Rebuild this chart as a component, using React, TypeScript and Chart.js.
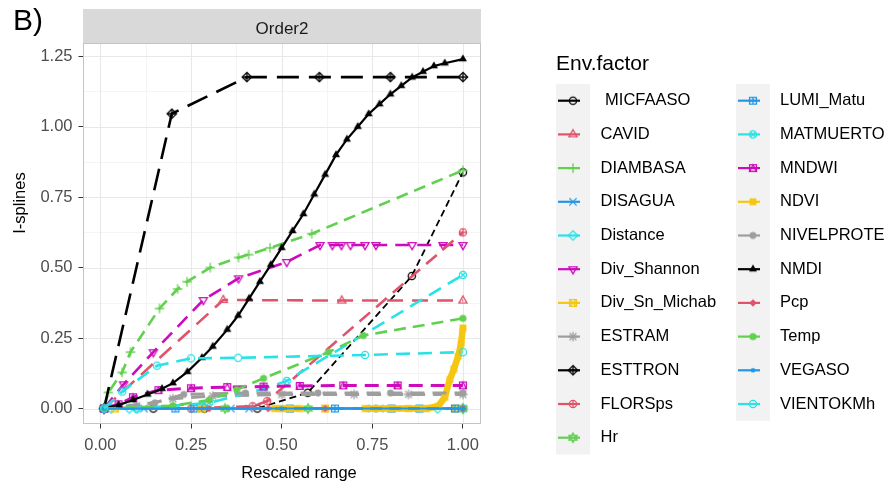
import React, { useEffect, useRef } from "react";
import { Chart, registerables } from "chart.js";

Chart.register(...registerables);

const FONT = "'Liberation Sans', Arial, Helvetica, sans-serif";

// ---------------- categories / labels ----------------
const factors = [
  "MICFAASO", "CAVID", "DIAMBASA", "DISAGUA", "Distance", "Div_Shannon", "Div_Sn_Michab",
  "ESTRAM", "ESTTRON", "FLORSps", "Hr", "LUMI_Matu", "MATMUERTO", "MNDWI", "NDVI",
  "NIVELPROTE", "NMDI", "Pcp", "Temp", "VEGASO", "VIENTOKMh",
];
const legendLabels = [
  " MICFAASO", "CAVID", "DIAMBASA", "DISAGUA", "Distance", "Div_Shannon", "Div_Sn_Michab",
  "ESTRAM", "ESTTRON", "FLORSps", "Hr", "LUMI_Matu", "MATMUERTO", "MNDWI", "NDVI",
  "NIVELPROTE", "NMDI", "Pcp", "Temp", "VEGASO", "VIENTOKMh",
];
const shapeCodes = [1, 2, 3, 4, 5, 6, 7, 8, 9, 10, 11, 12, 13, 14, 15, 16, 17, 18, 19, 20, 21];
const panelTitle = "Order2";
const figureTag = "B)";
const legendTitle = "Env.factor";
const xAxisTitle = "Rescaled range";
const yAxisTitle = "I-splines";
const xTickValues = [0, 0.25, 0.5, 0.75, 1];
const yTickValues = [0, 0.25, 0.5, 0.75, 1, 1.25];

// ---------------- series values ----------------
const MICFAASO_x = [0.01, 0.146, 0.287, 0.433, 0.572, 0.859, 1.0];
const MICFAASO_y = [0, 0, 0, 0, 0.056, 0.47, 0.838];

const CAVID_x = [0.01, 0.339, 0.666, 1.0];
const CAVID_y = [0, 0.385, 0.383, 0.383];

const DIAMBASA_x = [0.01, 0.022, 0.06, 0.083, 0.163, 0.213, 0.239, 0.303, 0.381, 0.409, 0.468, 0.583, 1.0];
const DIAMBASA_y = [0, 0.057, 0.128, 0.2, 0.355, 0.424, 0.45, 0.5, 0.536, 0.546, 0.57, 0.62, 0.845];

const DISAGUA_x = [0.01, 0.12, 0.28, 0.36, 0.41, 0.75, 0.77, 1.0];
const DISAGUA_y = [0, 0, 0, 0, 0, 0, 0, 0];

const Distance_x = [0.01, 0.03, 0.08, 0.1, 0.93, 1.0];
const Distance_y = [0, 0, 0, 0, 0, 0];

const Div_Shannon_x = [0.01, 0.064, 0.146, 0.284, 0.381, 0.514, 0.606, 0.64, 0.665, 0.69, 0.73, 0.76, 0.86, 0.945, 1.0];
const Div_Shannon_y = [0, 0.086, 0.2, 0.385, 0.462, 0.52, 0.58, 0.58, 0.58, 0.58, 0.58, 0.58, 0.58, 0.58, 0.58];

const Div_Sn_Michab_x = [0.01, 0.04, 0.28, 0.62, 0.98];
const Div_Sn_Michab_y = [0, 0, 0, 0, 0];

const ESTRAM_x = [0.01, 0.1, 0.2, 0.31, 0.5, 0.7, 0.85, 1.0];
const ESTRAM_y = [0, 0.01, 0.035, 0.044, 0.05, 0.05, 0.05, 0.05];

const ESTTRON_x = [0.01, 0.197, 0.404, 0.604, 0.8, 1.0];
const ESTTRON_y = [0, 1.046, 1.176, 1.176, 1.176, 1.176];

const FLORSps_x = [0.01, 0.25, 0.42, 0.46, 1.0];
const FLORSps_y = [0, 0, 0.008, 0.026, 0.625];

const Hr_x = [0.01, 0.344, 0.573, 1.0];
const Hr_y = [0, 0, 0, 0];

const LUMI_Matu_x = [0.01, 0.207, 0.257, 0.523, 0.647, 0.803, 0.88, 0.978];
const LUMI_Matu_y = [0, 0, 0, 0, 0, 0, 0, 0];

const MATMUERTO_x = [0.01, 0.1, 0.3, 0.45, 0.514, 1.0];
const MATMUERTO_y = [0, 0, 0.02, 0.07, 0.098, 0.474];

const MNDWI_x = [0.01, 0.05, 0.09, 0.16, 0.25, 0.35, 0.45, 0.55, 0.67, 0.82, 1.0];
const MNDWI_y = [0, 0.015, 0.04, 0.065, 0.072, 0.076, 0.078, 0.08, 0.082, 0.082, 0.082];

const NDVI_x = [0.48, 0.5, 0.52, 0.55, 0.64, 0.73, 0.76, 0.8, 0.85, 0.9, 0.932, 0.95, 0.964, 0.975, 0.987, 0.995, 1.0];
const NDVI_y = [0, 0, 0, 0, null, 0, 0, 0, 0, 0, 0.008, 0.04, 0.103, 0.14, 0.185, 0.23, 0.286];

const NIVELPROTE_x = [0.01, 0.15, 0.23, 0.4, 0.6, 0.8, 1.0];
const NIVELPROTE_y = [0, 0.02, 0.05, 0.055, 0.055, 0.055, 0.055];

const NMDI_x = [0.01, 0.05, 0.09, 0.13, 0.17, 0.2, 0.24, 0.28, 0.31, 0.35, 0.38, 0.41, 0.44, 0.47, 0.5, 0.53, 0.56, 0.59, 0.62, 0.65, 0.68, 0.71, 0.74, 0.77, 0.8, 0.83, 0.86, 0.89, 0.92, 0.95, 1.0];
const NMDI_y = [0, 0.012, 0.03, 0.05, 0.07, 0.09, 0.13, 0.18, 0.22, 0.28, 0.33, 0.39, 0.45, 0.51, 0.57, 0.63, 0.69, 0.76, 0.83, 0.9, 0.955, 1.0, 1.045, 1.08, 1.115, 1.145, 1.175, 1.195, 1.215, 1.225, 1.24];

const Pcp_x = [0.01, 0.3, 0.463, 0.62, 1.0];
const Pcp_y = [0, 0, 0, 0, 0];

const Temp_x = [0.01, 0.2, 0.3, 0.376, 0.45, 0.629, 0.725, 1.0];
const Temp_y = [0, 0.01, 0.03, 0.067, 0.107, 0.2, 0.259, 0.32];

const VEGASO_x = [0.01, 0.5, 1.0];
const VEGASO_y = [0, 0, 0];

const VIENTOKMh_x = [0.01, 0.06, 0.156, 0.25, 0.38, 0.73, 1.0];
const VIENTOKMh_y = [0, 0.06, 0.152, 0.178, 0.18, 0.19, 0.2];

const seriesX = [
  MICFAASO_x, CAVID_x, DIAMBASA_x, DISAGUA_x, Distance_x, Div_Shannon_x, Div_Sn_Michab_x,
  ESTRAM_x, ESTTRON_x, FLORSps_x, Hr_x, LUMI_Matu_x, MATMUERTO_x, MNDWI_x, NDVI_x,
  NIVELPROTE_x, NMDI_x, Pcp_x, Temp_x, VEGASO_x, VIENTOKMh_x,
];
const seriesY = [
  MICFAASO_y, CAVID_y, DIAMBASA_y, DISAGUA_y, Distance_y, Div_Shannon_y, Div_Sn_Michab_y,
  ESTRAM_y, ESTTRON_y, FLORSps_y, Hr_y, LUMI_Matu_y, MATMUERTO_y, MNDWI_y, NDVI_y,
  NIVELPROTE_y, NMDI_y, Pcp_y, Temp_y, VEGASO_y, VIENTOKMh_y,
];

// ---------------- styles ----------------
const palette = ["#000000", "#DF536B", "#61D04F", "#2297E6", "#28E2E5", "#CD0BBC", "#F5C710", "#9E9E9E"];
const lineDashes: number[][] = [
  [7, 4], [16, 9], [12, 7], [], [12, 7], [14, 8], [],
  [14, 8], [22, 10], [14, 8], [], [], [14, 8], [14, 8], [],
  [14, 8], [], [12, 7], [12, 7], [], [14, 8],
];
const lineWidths = [
  1.8, 2.6, 2.6, 2, 2.6, 2.6, 2.6,
  3, 2.6, 2.6, 2, 2, 2.6, 3, 6.5,
  3, 2.2, 2.6, 2.6, 2, 2.6,
];

function makePch(code: number, color: string): HTMLCanvasElement {
  const S = 14;
  const c = document.createElement("canvas");
  c.width = S;
  c.height = S;
  const g = c.getContext("2d")!;
  const m = S / 2;
  const r = 3.6;
  g.strokeStyle = color;
  g.fillStyle = color;
  g.lineWidth = 1.3;
  const path = (pts: number[][]) => {
    g.beginPath();
    pts.forEach(([x, y], i) => (i ? g.lineTo(m + x, m + y) : g.moveTo(m + x, m + y)));
    g.closePath();
  };
  const circ = (rr: number) => {
    g.beginPath();
    g.arc(m, m, rr, 0, Math.PI * 2);
  };
  const plus = (rr: number) => {
    g.beginPath();
    g.moveTo(m - rr, m); g.lineTo(m + rr, m);
    g.moveTo(m, m - rr); g.lineTo(m, m + rr);
    g.stroke();
  };
  const cross = (rr: number) => {
    g.beginPath();
    g.moveTo(m - rr, m - rr); g.lineTo(m + rr, m + rr);
    g.moveTo(m - rr, m + rr); g.lineTo(m + rr, m - rr);
    g.stroke();
  };
  const T = r * 1.3;
  const triUp = [[0, -T], [T * 0.866, T * 0.5], [-T * 0.866, T * 0.5]];
  const triDn = [[0, T], [T * 0.866, -T * 0.5], [-T * 0.866, -T * 0.5]];
  const D = r * 1.3;
  const dia = [[0, -D], [D, 0], [0, D], [-D, 0]];
  const q = r * 0.95;
  const sq = [[-q, -q], [q, -q], [q, q], [-q, q]];
  switch (code) {
    case 1: circ(r); g.stroke(); break;
    case 2: path(triUp); g.stroke(); break;
    case 3: plus(r * 1.3); break;
    case 4: cross(r); break;
    case 5: path(dia); g.stroke(); break;
    case 6: path(triDn); g.stroke(); break;
    case 7: path(sq); g.stroke(); cross(q); break;
    case 8: plus(r * 1.3); cross(r * 0.95); break;
    case 9: path(dia); g.stroke(); plus(D); break;
    case 10: circ(r); g.stroke(); plus(r); break;
    case 11: path(triUp); g.stroke(); path(triDn); g.stroke(); break;
    case 12: path(sq); g.stroke(); plus(q); break;
    case 13: circ(r); g.stroke(); cross(r * 0.707); break;
    case 14: path(sq); g.stroke(); path([[0, -q], [q, q], [-q, q]]); g.stroke(); break;
    case 15: path(sq); g.fill(); break;
    case 16: circ(r * 0.95); g.fill(); break;
    case 17: path(triUp); g.fill(); break;
    case 18: path(dia.map(([x, y]) => [x * 0.8, y * 0.8])); g.fill(); break;
    case 19: circ(r); g.fill(); break;
    case 20: circ(r * 0.65); g.fill(); break;
    default: circ(r); g.stroke(); break;
  }
  return c;
}

export default function App() {
  const ref = useRef<HTMLCanvasElement>(null);

  useEffect(() => {
    const canvas = ref.current!;
    Chart.defaults.font.family = FONT;
    const colors = factors.map((_, i) => palette[i % palette.length]);
    const pchImgs = factors.map((_, i) => makePch(shapeCodes[i], colors[i]));

    const datasets = factors.map((name, i) => ({
      label: name,
      data: seriesX[i].map((x, j) => ({ x, y: seriesY[i][j] })),
      borderColor: colors[i],
      backgroundColor: colors[i],
      borderWidth: lineWidths[i],
      borderDash: lineDashes[i],
      borderCapStyle: "butt" as const,
      pointStyle: pchImgs[i],
      pointRadius: 3,
      pointHoverRadius: 3,
      tension: 0,
      spanGaps: false,
      order: factors.length - i,
    }));

    const decor = {
      id: "decor",
      beforeDraw(chart: any) {
        const { ctx, chartArea: a, scales } = chart;
        const xs = scales.x;
        const ys = scales.y;
        ctx.save();
        ctx.fillStyle = "#ffffff";
        ctx.fillRect(0, 0, chart.width, chart.height);
        // strip
        ctx.fillStyle = "#d9d9d9";
        ctx.fillRect(a.left, 9, a.right - a.left, a.top - 9);
        // minor grid
        ctx.strokeStyle = "#f1f1f1";
        ctx.lineWidth = 0.8;
        for (let k = 0; k < xTickValues.length - 1; k++) {
          const v = (xTickValues[k] + xTickValues[k + 1]) / 2;
          const px = Math.round(xs.getPixelForValue(v)) + 0.5;
          ctx.beginPath(); ctx.moveTo(px, a.top); ctx.lineTo(px, a.bottom); ctx.stroke();
        }
        for (let k = 0; k < yTickValues.length - 1; k++) {
          const v = (yTickValues[k] + yTickValues[k + 1]) / 2;
          const py = Math.round(ys.getPixelForValue(v)) + 0.5;
          ctx.beginPath(); ctx.moveTo(a.left, py); ctx.lineTo(a.right, py); ctx.stroke();
        }
        // major grid
        ctx.strokeStyle = "#e8e8e8";
        ctx.lineWidth = 1.1;
        xTickValues.forEach((v) => {
          const px = Math.round(xs.getPixelForValue(v)) + 0.5;
          ctx.beginPath(); ctx.moveTo(px, a.top); ctx.lineTo(px, a.bottom); ctx.stroke();
        });
        yTickValues.forEach((v) => {
          const py = Math.round(ys.getPixelForValue(v)) + 0.5;
          ctx.beginPath(); ctx.moveTo(a.left, py); ctx.lineTo(a.right, py); ctx.stroke();
        });
        ctx.restore();
      },
      afterDatasetsDraw(chart: any) {
        const { ctx, chartArea: a } = chart;
        ctx.save();
        ctx.strokeStyle = "#c4c4c4";
        ctx.lineWidth = 1;
        ctx.strokeRect(a.left + 0.5, a.top + 0.5, a.right - a.left - 1, a.bottom - a.top - 1);
        ctx.restore();
      },
      afterDraw(chart: any) {
        const { ctx, chartArea: a } = chart;
        ctx.save();
        // figure tag
        ctx.fillStyle = "#000000";
        ctx.font = `30px ${FONT}`;
        ctx.textAlign = "left";
        ctx.textBaseline = "alphabetic";
        ctx.fillText(figureTag, 13, 30);
        // strip title
        ctx.fillStyle = "#1a1a1a";
        ctx.font = `17px ${FONT}`;
        ctx.textAlign = "center";
        ctx.textBaseline = "middle";
        ctx.fillText(panelTitle, (a.left + a.right) / 2, 29);
        // axis titles
        ctx.fillStyle = "#000000";
        ctx.font = `16.5px ${FONT}`;
        ctx.textAlign = "center";
        ctx.textBaseline = "alphabetic";
        ctx.fillText(xAxisTitle, 299, 478);
        ctx.save();
        ctx.translate(25, 203);
        ctx.rotate(-Math.PI / 2);
        ctx.fillText(yAxisTitle, 0, 0);
        ctx.restore();
        // legend
        ctx.textAlign = "left";
        ctx.textBaseline = "middle";
        ctx.font = `21px ${FONT}`;
        ctx.fillText(legendTitle, 556, 64);
        const rowH = 33.7;
        const row0 = 100.7;
        const cols = [
          { keyX: 556, textX: 600.5, start: 0, n: 11 },
          { keyX: 736, textX: 780, start: 11, n: 10 },
        ];
        ctx.font = `16.5px ${FONT}`;
        cols.forEach((col) => {
          ctx.fillStyle = "#f2f2f2";
          ctx.fillRect(col.keyX, row0 - rowH / 2, 34, col.n * rowH);
          for (let k = 0; k < col.n; k++) {
            const i = col.start + k;
            const y = row0 + k * rowH;
            ctx.strokeStyle = colors[i];
            ctx.lineWidth = 2.2;
            ctx.setLineDash([]);
            ctx.beginPath();
            ctx.moveTo(col.keyX + 2, y);
            ctx.lineTo(col.keyX + 24, y);
            ctx.stroke();
            const img = pchImgs[i];
            ctx.drawImage(img, col.keyX + 17 - img.width / 2, y - img.height / 2);
            ctx.fillStyle = "#000000";
            ctx.fillText(legendLabels[i], col.textX, y);
          }
        });
        ctx.restore();
      },
    };

    const tickFont = { family: FONT, size: 16.5 };
    const chart = new Chart(canvas, {
      type: "line",
      data: { datasets: datasets as any },
      options: {
        animation: false,
        responsive: false,
        devicePixelRatio: 1,
        events: [],
        layout: { padding: { left: 0, top: 43, right: 411, bottom: 0 } },
        plugins: { legend: { display: false }, tooltip: { enabled: false }, title: { display: false } },
        scales: {
          x: {
            type: "linear",
            min: -0.048,
            max: 1.05,
            afterFit: (s: any) => { s.height = 58; },
            afterBuildTicks: (s: any) => { s.ticks = xTickValues.map((v) => ({ value: v })); },
            ticks: {
              callback: (v: any) => Number(v).toFixed(2),
              font: tickFont,
              color: "#4d4d4d",
              padding: 7,
              autoSkip: false,
              maxRotation: 0,
              minRotation: 0,
            },
            grid: { display: true, drawOnChartArea: false, drawTicks: true, tickLength: 4.5, tickColor: "#333333", tickWidth: 1 },
            border: { display: false },
          },
          y: {
            type: "linear",
            min: -0.055,
            max: 1.297,
            afterFit: (s: any) => { s.width = 83; },
            afterBuildTicks: (s: any) => { s.ticks = yTickValues.map((v) => ({ value: v })); },
            ticks: {
              callback: (v: any) => Number(v).toFixed(2),
              font: tickFont,
              color: "#4d4d4d",
              padding: 6,
              autoSkip: false,
            },
            grid: { display: true, drawOnChartArea: false, drawTicks: true, tickLength: 4.5, tickColor: "#333333", tickWidth: 1 },
            border: { display: false },
          },
        },
      },
      plugins: [decor],
    });
    return () => chart.destroy();
  }, []);

  return (
    <div style={{ position: "fixed", left: 0, top: 0, width: 892, height: 482, background: "#ffffff" }}>
      <canvas ref={ref} width={892} height={482} style={{ display: "block", width: 892, height: 482 }} />
    </div>
  );
}
